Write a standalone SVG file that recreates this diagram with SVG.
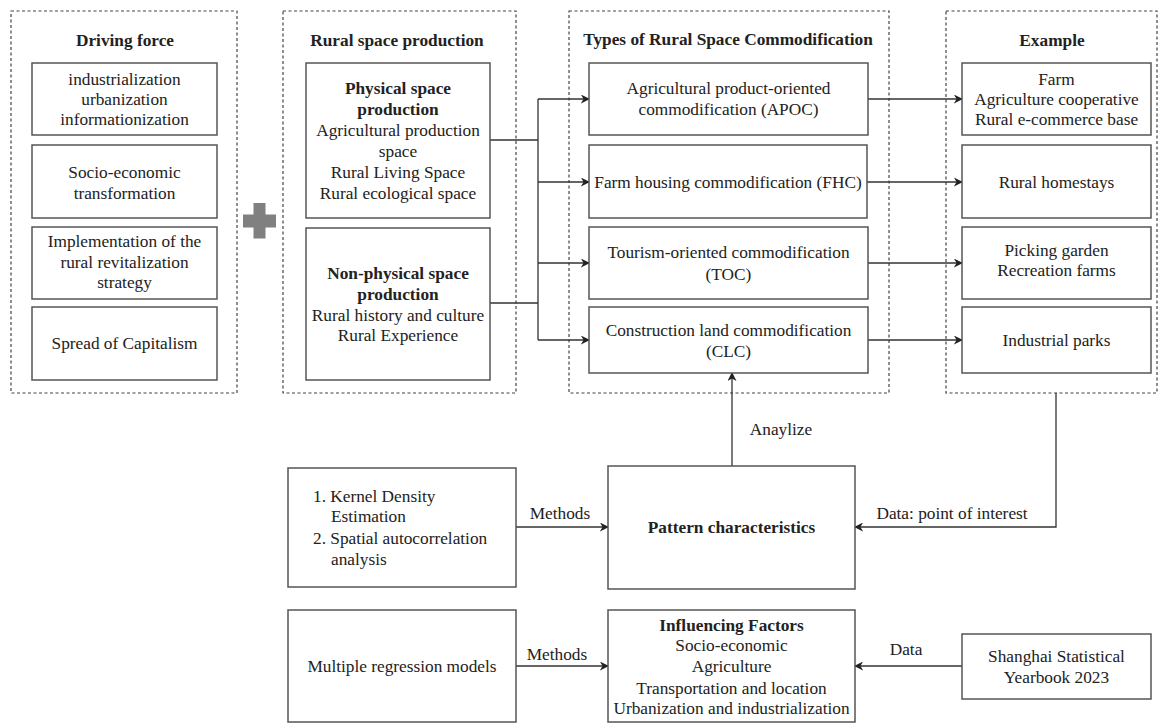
<svg xmlns="http://www.w3.org/2000/svg" width="1159" height="723" viewBox="0 0 1159 723">
<defs>
<style>
text{font-family:"Liberation Serif","Times New Roman",serif;font-size:17.3px;fill:#222;text-anchor:middle}
.b{font-weight:bold}
.l{text-anchor:start}
.box{fill:#fff;stroke:#555;stroke-width:1.5}
.grp{fill:none;stroke:#444;stroke-width:1.2;stroke-dasharray:3 2.5}
.ln{fill:none;stroke:#333;stroke-width:1.3}
.ar{fill:none;stroke:#333;stroke-width:1.3;marker-end:url(#ah)}
</style>
<marker id="ah" viewBox="0 0 10 10" refX="9" refY="5" markerWidth="9" markerHeight="9" markerUnits="userSpaceOnUse" orient="auto">
<path d="M0,0 L10,5 L0,10 L3,5 z" fill="#222"/>
</marker>
</defs>
<rect width="1159" height="723" fill="#fff"/>

<g id="containers">
<rect id="grp-driving" class="grp" x="11" y="11" width="226" height="382"/>
<rect id="grp-production" class="grp" x="283" y="11" width="233" height="382"/>
<rect id="grp-types" class="grp" x="569" y="11" width="320" height="382"/>
<rect id="grp-example" class="grp" x="946" y="11" width="211" height="382"/>
<text class="b" x="125" y="45.5">Driving force</text>
<text class="b" x="397" y="45.5">Rural space production</text>
<text class="b" x="728" y="44.5">Types of Rural Space Commodification</text>
<text class="b" x="1052" y="45.5">Example</text>
</g>

<g id="plus">
<path d="M253.5,203 h12 v11.5 h10.5 v13 h-10.5 v11 h-12 v-11 h-10.5 v-13 h10.5 z" fill="#808080"/>
</g>

<g id="connectors">
<path class="ln" d="M490,140 H538 M490,303 H538 M538,99 V340"/>
<path class="ar" d="M538,99 H589"/>
<path class="ar" d="M538,182 H589"/>
<path class="ar" d="M538,263 H589"/>
<path class="ar" d="M538,340 H589"/>
<path class="ar" d="M868,99 H962"/>
<path class="ar" d="M867,182 H962"/>
<path class="ar" d="M868,263 H962"/>
<path class="ar" d="M868,340 H962"/>
<path class="ar" d="M732,466 V373"/>
<path class="ar" d="M516,527 H608"/>
<path class="ar" d="M516,666 H608"/>
<path class="ar" d="M1056,393 V527 H855"/>
<path class="ar" d="M962,666 H855"/>
<text x="781" y="434.5">Anaylize</text>
<text x="560" y="518.5">Methods</text>
<text x="557" y="659.5">Methods</text>
<text x="952" y="518.5">Data: point of interest</text>
<text x="906" y="654.5">Data</text>
</g>

<g id="df1"><rect class="box" x="32" y="63" width="185" height="72"/>
<text x="124.5" y="84.5">industrialization</text><text x="124.5" y="104.5">urbanization</text><text x="124.5" y="124.5">informationization</text></g>
<g id="df2"><rect class="box" x="32" y="145" width="185" height="73"/>
<text x="124.5" y="177.5">Socio-economic</text><text x="124.5" y="198.5">transformation</text></g>
<g id="df3"><rect class="box" x="32" y="227" width="185" height="72"/>
<text x="124.5" y="246.5">Implementation of the</text><text x="124.5" y="267.5">rural revitalization</text><text x="124.5" y="287.5">strategy</text></g>
<g id="df4"><rect class="box" x="32" y="307" width="185" height="73"/>
<text x="124.5" y="348.5">Spread of Capitalism</text></g>

<g id="physical"><rect class="box" x="306" y="63" width="184" height="155"/>
<text class="b" x="398" y="93.5">Physical space</text><text class="b" x="398" y="114.5">production</text>
<text x="398" y="135.5">Agricultural production</text><text x="398" y="156.5">space</text>
<text x="398" y="177.5">Rural Living Space</text><text x="398" y="198.5">Rural ecological space</text></g>
<g id="nonphysical"><rect class="box" x="306" y="228" width="184" height="152"/>
<text class="b" x="398" y="278.5">Non-physical space</text><text class="b" x="398" y="299.5">production</text>
<text x="398" y="320.5">Rural history and culture</text><text x="398" y="340.5">Rural Experience</text></g>

<g id="apoc"><rect class="box" x="589" y="63" width="279" height="72"/>
<text x="728.5" y="93.5">Agricultural product-oriented</text><text x="728.5" y="114.5">commodification (APOC)</text></g>
<g id="fhc"><rect class="box" x="589" y="145" width="278" height="73"/>
<text x="728" y="187.5">Farm housing commodification (FHC)</text></g>
<g id="toc"><rect class="box" x="589" y="227" width="279" height="72"/>
<text x="728.5" y="257.5">Tourism-oriented commodification</text><text x="728.5" y="279.5">(TOC)</text></g>
<g id="clc"><rect class="box" x="589" y="307" width="279" height="66"/>
<text x="728.5" y="335.5">Construction land commodification</text><text x="728.5" y="356.5">(CLC)</text></g>

<g id="ex1"><rect class="box" x="962" y="63" width="189" height="72"/>
<text x="1056.5" y="84.5">Farm</text><text x="1056.5" y="104.5">Agriculture cooperative</text><text x="1056.5" y="124.5">Rural e-commerce base</text></g>
<g id="ex2"><rect class="box" x="962" y="145" width="189" height="73"/>
<text x="1056.5" y="187.5">Rural homestays</text></g>
<g id="ex3"><rect class="box" x="962" y="227" width="189" height="72"/>
<text x="1056.5" y="255.5">Picking garden</text><text x="1056.5" y="275.5">Recreation farms</text></g>
<g id="ex4"><rect class="box" x="962" y="307" width="189" height="66"/>
<text x="1056.5" y="345.5">Industrial parks</text></g>

<g id="kde"><rect class="box" x="288" y="468" width="228" height="119"/>
<text class="l" x="313" y="501.5">1. Kernel Density</text><text class="l" x="331" y="521.5">Estimation</text>
<text class="l" x="313" y="543.5">2. Spatial autocorrelation</text><text class="l" x="331" y="564.5">analysis</text></g>
<g id="pattern"><rect class="box" x="608" y="466" width="247" height="123"/>
<text class="b" x="731.5" y="532.5">Pattern characteristics</text></g>
<g id="regression"><rect class="box" x="288" y="610" width="228" height="112"/>
<text x="402" y="671.5">Multiple regression models</text></g>
<g id="influencing"><rect class="box" x="608" y="610" width="247" height="112"/>
<text class="b" x="731.5" y="630.5">Influencing Factors</text><text x="731.5" y="650.5">Socio-economic</text>
<text x="731.5" y="671.5">Agriculture</text><text x="731.5" y="693.5">Transportation and location</text>
<text x="731.5" y="713.5">Urbanization and industrialization</text></g>
<g id="yearbook"><rect class="box" x="962" y="634" width="189" height="65"/>
<text x="1056.5" y="661.5">Shanghai Statistical</text><text x="1056.5" y="682.5">Yearbook 2023</text></g>
</svg>
